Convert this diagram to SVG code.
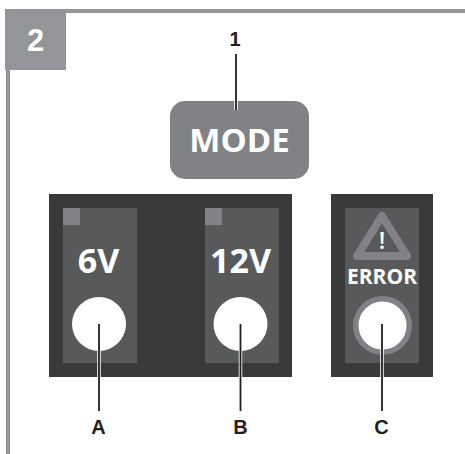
<svg xmlns="http://www.w3.org/2000/svg" width="465" height="454" viewBox="0 0 465 454">
<style>
.lab{font-family:"Liberation Sans",Arial,sans-serif;font-weight:700;font-size:20px;fill:#231f20;text-anchor:middle}
.os{font-family:"Open Sans","Noto Sans",sans-serif;font-weight:700;fill:#fff;text-anchor:middle}
.panel{fill:#3a3a3a}
.inner{fill:#58595b}
.sq{fill:#808285}
.halo{stroke:#fff;stroke-width:3.500;fill:none}
.lead{stroke:#231f20;stroke-width:1.800;fill:none}
</style>
<rect width="465" height="454" fill="#fff"/>
<g id="frame">
<rect x="5" y="9" width="460" height="4" fill="#939598"/>
<rect x="6" y="9" width="4" height="445" fill="#939598"/>
<rect x="5" y="9" width="61" height="61" fill="#939598"/>
<text x="35.500" y="51" style="font-family:'Liberation Sans',Arial,sans-serif;font-weight:700;font-size:31px;fill:#fff;text-anchor:middle">2</text>
</g>
<g id="mode">
<rect x="170" y="101" width="139" height="78" rx="15" fill="#808285"/>
<text class="os" x="239.500" y="152" font-size="33">MODE</text>
</g>
<g id="panel-left">
<rect class="panel" x="49" y="194" width="243" height="183"/>
<rect class="inner" x="63" y="208" width="74" height="155"/>
<rect class="inner" x="205" y="208" width="74" height="155"/>
<rect class="sq" x="63" y="208" width="17" height="17"/>
<rect class="sq" x="205" y="208" width="17" height="17"/>
<text class="os" x="98.500" y="272.500" font-size="34">6V</text>
<text class="os" x="240.500" y="272.500" font-size="34">12V</text>
<circle cx="99" cy="324" r="27" fill="#fff"/>
<circle cx="240.500" cy="324" r="27" fill="#fff"/>
</g>
<g id="panel-error">
<rect class="panel" x="331" y="194" width="102" height="183"/>
<rect class="inner" x="345" y="208" width="74" height="155"/>
<path d="M382 216 L407 256 L357 256 Z" fill="none" stroke="#808285" stroke-width="8" stroke-linejoin="round"/>
<text x="382" y="249" style="font-family:'Open Sans','Noto Sans',sans-serif;font-weight:600;font-size:24px;fill:#fff;text-anchor:middle">!</text>
<text class="os" x="382" y="284" font-size="21">ERROR</text>
<circle cx="382.500" cy="325.500" r="26.750" fill="#fff" stroke="#808285" stroke-width="5.500"/>
</g>
<g id="connectors">
<path class="halo" d="M236 54V110"/>
<path class="lead" d="M236 54V110"/>
<path class="halo" d="M99 324V411M240.500 324V411M382 324V411"/>
<path class="lead" d="M99 324V411M240.500 324V411M382 324V411"/>
</g>
<g id="labels">
<text class="lab" x="235" y="46">1</text>
<text class="lab" x="98.500" y="434">A</text>
<text class="lab" x="240.500" y="434">B</text>
<text class="lab" x="381.500" y="434">C</text>
</g>
</svg>
